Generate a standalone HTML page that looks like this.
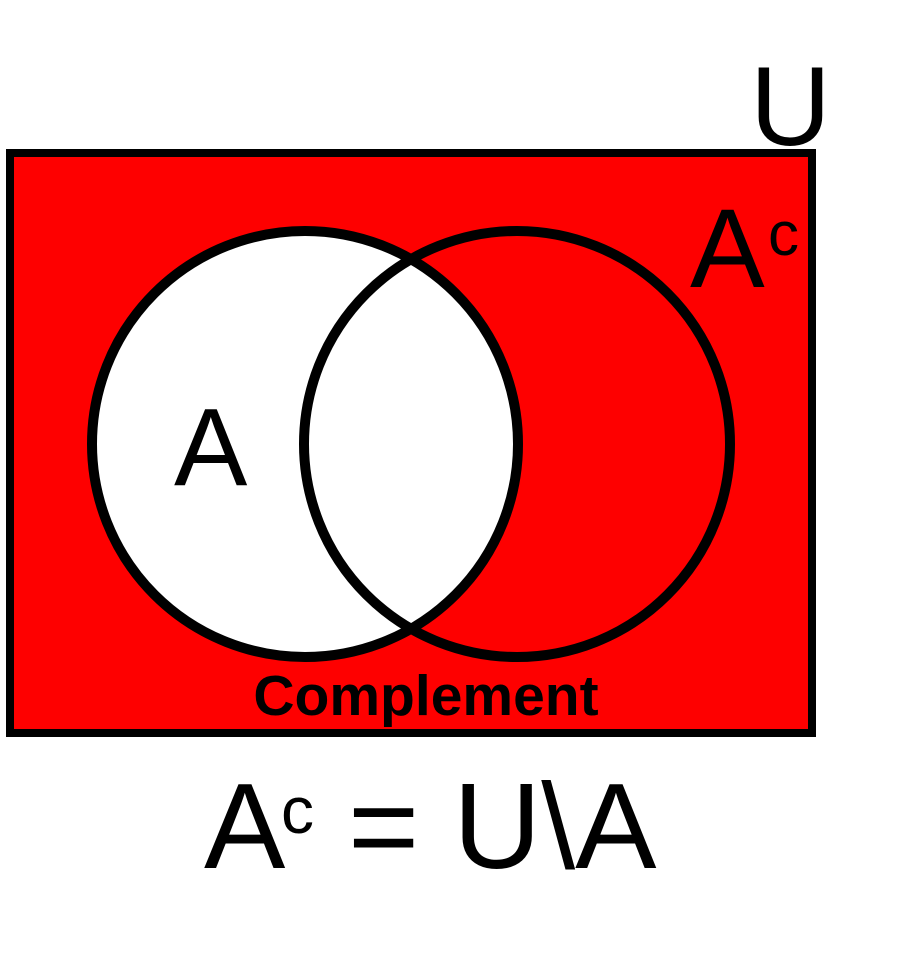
<!DOCTYPE html>
<html>
<head>
<meta charset="utf-8">
<style>
html,body{margin:0;padding:0;background:#fff;}
svg{display:block;}
text{font-family:"Liberation Sans",Arial,sans-serif;fill:#000;}
</style>
</head>
<body>
<svg width="900" height="970" viewBox="0 0 900 970">
  <rect x="10" y="153" width="802" height="580" fill="#fe0000" stroke="#000" stroke-width="8"/>
  <circle cx="305" cy="444" r="213" fill="#fff"/>
  <circle cx="305" cy="444" r="213" fill="none" stroke="#000" stroke-width="10"/>
  <circle cx="517" cy="444" r="213" fill="none" stroke="#000" stroke-width="10"/>
  <text x="750" y="145" font-size="112">U</text>
  <text x="690" y="287" font-size="112">A</text>
  <text x="768" y="255" font-size="62">c</text>
  <text x="174" y="485" font-size="110">A</text>
  <text x="426" y="715" font-size="57" font-weight="bold" text-anchor="middle">Complement</text>
  <text x="204" y="868" font-size="122">A</text>
  <text x="281" y="833" font-size="66">c</text>
  <text x="348" y="868" font-size="122">= U\A</text>
</svg>
</body>
</html>
